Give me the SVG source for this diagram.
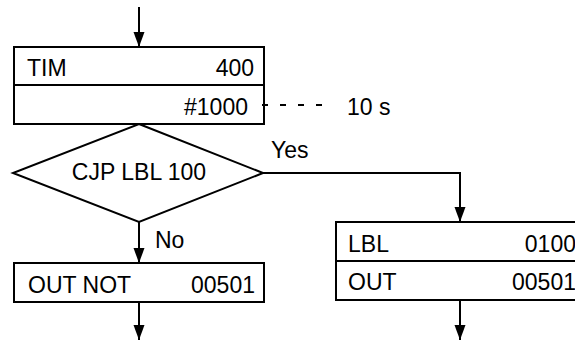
<svg xmlns="http://www.w3.org/2000/svg" width="575" height="341" viewBox="0 0 575 341">
<style>
  .box { fill: #fff; stroke: #000; stroke-width: 2; }
  .conn { fill: none; stroke: #000; stroke-width: 2; }
  .dash { fill: none; stroke: #000; stroke-width: 2; stroke-dasharray: 6 12; }
  text { font-family: "Liberation Sans", Arial, sans-serif; font-size: 23px; fill: #000; }
  .end { text-anchor: end; }
  .mid { text-anchor: middle; }
</style>
<defs>
  <marker id="arrow" markerUnits="userSpaceOnUse" markerWidth="16" markerHeight="12" viewBox="0 0 16 12" refX="15" refY="6" orient="auto">
    <path d="M0,0.5 L15,6 L0,11.5 Z" fill="#000"/>
  </marker>
</defs>
<rect width="575" height="341" fill="#fff"/>
<g id="tim">
  <rect class="box" x="14" y="47" width="250" height="38"/>
  <rect class="box" x="14" y="85" width="250" height="39"/>
  <text x="27" y="76">TIM</text>
  <text class="end" x="254" y="76">400</text>
  <text class="end" x="248" y="115">#1000</text>
</g>
<g id="time-label">
  <text x="347" y="115">10 s</text>
</g>
<g id="cjp">
  <polygon class="box" points="139,124 263,173 139,222 13,173"/>
  <text class="mid" x="139" y="180">CJP LBL 100</text>
</g>
<g id="labels">
  <text x="271" y="158">Yes</text>
  <text x="155" y="248">No</text>
</g>
<g id="out-not">
  <rect class="box" x="14" y="263" width="250" height="39"/>
  <text x="28" y="293">OUT NOT</text>
  <text class="end" x="255" y="293">00501</text>
</g>
<g id="lbl-out">
  <rect class="box" x="336" y="222" width="250" height="39"/>
  <rect class="box" x="336" y="261" width="250" height="39"/>
  <text x="348" y="252">LBL</text>
  <text class="end" x="576" y="252">0100</text>
  <text x="348" y="290">OUT</text>
  <text class="end" x="576" y="290">00501</text>
</g>
<g id="connectors">
  <line class="conn" x1="139" y1="7" x2="139" y2="47" marker-end="url(#arrow)"/>
  <line class="conn" x1="139" y1="222" x2="139" y2="263" marker-end="url(#arrow)"/>
  <line class="conn" x1="139" y1="302" x2="139" y2="340" marker-end="url(#arrow)"/>
  <polyline class="conn" points="263,173 460,173 460,222" marker-end="url(#arrow)"/>
  <line class="conn" x1="460" y1="300" x2="460" y2="340" marker-end="url(#arrow)"/>
  <line class="dash" x1="262" y1="105" x2="323" y2="105"/>
</g>
</svg>
